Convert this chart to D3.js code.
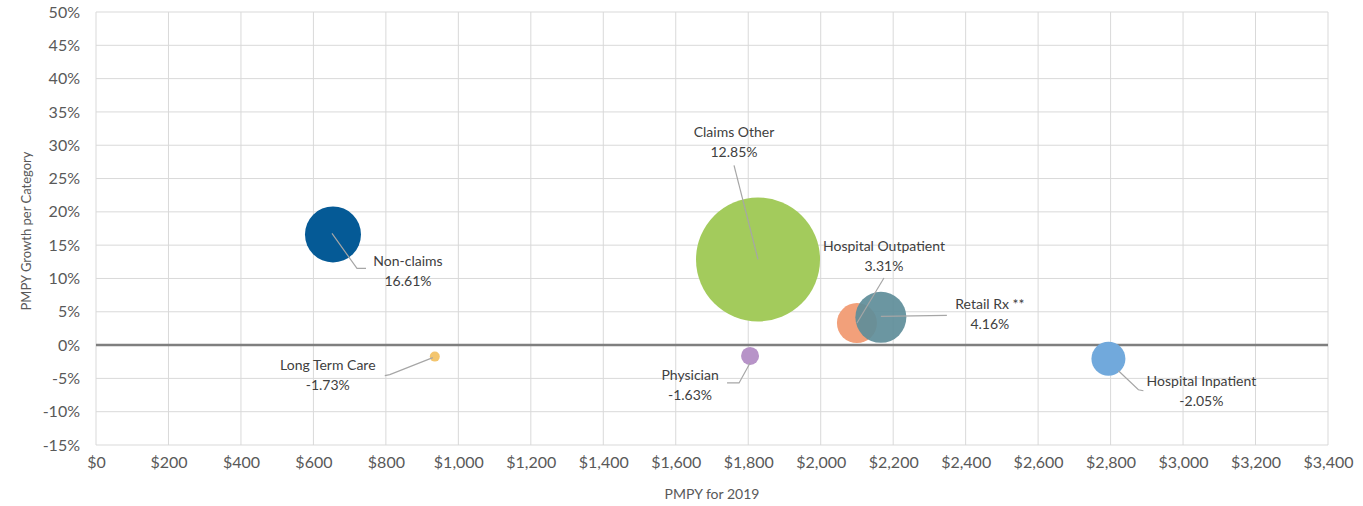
<!DOCTYPE html>
<html>
<head>
<meta charset="utf-8">
<script src="https://cdn.jsdelivr.net/npm/d3@7"></script>
<style>
  html, body { margin: 0; padding: 0; background: #fff; }
  svg { display: block; font-family: Lato, "Open Sans", sans-serif; }
</style>
</head>
<body>
<svg id="chart" width="1363" height="506"></svg>
<script>
// Spending categories: PMPY for 2019, growth per category, relative bubble size
const categories = ["Non-claims", "Claims Other", "Hospital Outpatient", "Retail Rx **", "Physician", "Long Term Care", "Hospital Inpatient"];
const pmpy2019 = [654, 1827, 2100, 2166, 1805, 935, 2794];
const growthPct = [16.61, 12.85, 3.31, 4.16, -1.63, -1.73, -2.05];
const bubbleSize = [784, 3844, 400, 650, 81, 25, 289];
const colors = ["#055a96", "#a3cb5c", "#f2a07a", "#5e8d99", "#b793c8", "#f3c56e", "#71a9dc"];

const xTicks = d3.range(0, 3401, 200);
const yTicks = d3.range(-15, 51, 5);

// Label placement (offset of the label centre from the bubble centre) and leader path
const labelLayout = [
  { dx: 75, dy: 27, leader: [[-1, -1], [24, 34], [33, 34]] },
  { dx: -24, dy: -127, leader: [[0, 0], [-24, -94]] },
  { dx: 27, dy: -77, leader: [[0, 0], [27, -45]] },
  { dx: 109, dy: -13, leader: [[0, -1], [66, -2]] },
  { dx: -60, dy: 19, leader: [[0, 7], [-11, 27], [-23, 27]] },
  { dx: -107, dy: 8, leader: [[-2, 1], [-45, 18], [-50, 19]] },
  { dx: 93, dy: 22, leader: [[10, 12], [30, 31], [35, 32]] }
];

const svg = d3.select("#chart");
const margin = { left: 96, right: 35, top: 12, bottom: 61 };
const W = 1363, H = 506;

const x = d3.scaleLinear().domain([0, 3400]).range([margin.left, W - margin.right]);
const y = d3.scaleLinear().domain([-15, 50]).range([H - margin.bottom, margin.top]);
const r = d3.scaleSqrt().domain([0, d3.max(bubbleSize)]).range([0, 62]);

// Gridlines
svg.append("g").selectAll("line.v").data(xTicks).join("line")
  .attr("x1", d => x(d)).attr("x2", d => x(d))
  .attr("y1", y(50)).attr("y2", y(-15))
  .attr("stroke", "#d9d9d9").attr("stroke-width", 1);
svg.append("g").selectAll("line.h").data(yTicks).join("line")
  .attr("x1", x(0)).attr("x2", x(3400))
  .attr("y1", d => y(d)).attr("y2", d => y(d))
  .attr("stroke", "#d9d9d9").attr("stroke-width", 1);

// Axes (labels only)
const xAxis = d3.axisBottom(x).tickValues(xTicks).tickSize(0).tickPadding(12)
  .tickFormat(d => "$" + d3.format(",")(d));
svg.append("g").attr("transform", `translate(0,${y(-15)})`).call(xAxis)
  .call(g => g.select(".domain").remove())
  .call(g => g.selectAll("text").attr("fill", "#595959").attr("font-size", 16).attr("font-family", "Lato"));

const yAxis = d3.axisLeft(y).tickValues(yTicks).tickSize(0).tickPadding(16)
  .tickFormat(d => d + "%");
svg.append("g").attr("transform", `translate(${x(0)},0)`).call(yAxis)
  .call(g => g.select(".domain").remove())
  .call(g => g.selectAll("text").attr("fill", "#595959").attr("font-size", 16).attr("font-family", "Lato"));

// Zero line
svg.append("line")
  .attr("x1", x(0)).attr("x2", x(3400))
  .attr("y1", y(0)).attr("y2", y(0))
  .attr("stroke", "#7f7f7f").attr("stroke-width", 2.5);

// Axis titles
svg.append("text").attr("x", (x(0) + x(3400)) / 2).attr("y", 499)
  .attr("text-anchor", "middle").attr("font-size", 14).attr("fill", "#595959")
  .text("PMPY for 2019");
svg.append("text").attr("transform", `translate(31,${231}) rotate(-90)`)
  .attr("text-anchor", "middle").attr("font-size", 13).attr("fill", "#595959")
  .text("PMPY Growth per Category");

// Bubbles
const data = categories.map((c, i) => ({
  name: c, px: pmpy2019[i], g: growthPct[i], s: bubbleSize[i], color: colors[i], lay: labelLayout[i]
}));

svg.append("g").selectAll("circle").data(data).join("circle")
  .attr("cx", d => x(d.px)).attr("cy", d => y(d.g)).attr("r", d => r(d.s))
  .attr("fill", d => d.color)
  .attr("fill-opacity", d => d.name === "Retail Rx **" ? 0.92 : 1);

// Leader lines
const line = d3.line();
svg.append("g").selectAll("path").data(data).join("path")
  .attr("d", d => line(d.lay.leader.map(p => [x(d.px) + p[0], y(d.g) + p[1]])))
  .attr("fill", "none").attr("stroke", "#a6a6a6").attr("stroke-width", 1.2);

// Data labels (hyphen-minus for negative values)
const pct = v => d3.format(".2f")(v).replace("\u2212", "-") + "%";
const labels = svg.append("g").selectAll("text").data(data).join("text")
  .attr("text-anchor", "middle").attr("font-size", 14).attr("fill", "#404040");
labels.append("tspan")
  .attr("x", d => x(d.px) + d.lay.dx).attr("y", d => y(d.g) + d.lay.dy + 5)
  .text(d => d.name);
labels.append("tspan")
  .attr("x", d => x(d.px) + d.lay.dx).attr("y", d => y(d.g) + d.lay.dy + 25)
  .text(d => pct(d.g));
</script>
</body>
</html>
